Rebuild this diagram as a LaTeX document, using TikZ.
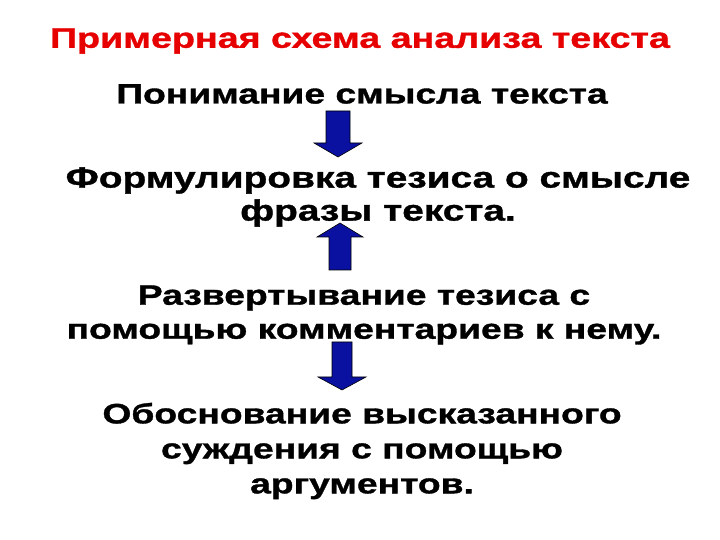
\documentclass[tikz,border=0pt]{standalone}
\usepackage{fontspec}
\setmainfont{Liberation Sans}[FakeStretch=1.33, BoldFeatures={FakeBold=1.2}]
\usetikzlibrary{calc}
\definecolor{arrblue}{RGB}{10,16,160}
\definecolor{titlered}{RGB}{230,0,0}
\begin{document}
\begin{tikzpicture}[x=1pt,y=1pt,
  txt/.style={font=\fontsize{28}{34}\selectfont\bfseries, align=center, inner sep=0pt, text=black},
  blockarrow/.style={fill=arrblue, draw=black, line width=0.6pt}]
\useasboundingbox (0,0) rectangle (720,540);
\node[txt, text=titlered, font=\fontsize{28.3}{34}\selectfont\bfseries] (title) at (360,499) {Примерная схема анализа текста};
\node[txt] (t1) at (362,446) {Понимание смысла текста};
\node[txt, font=\fontsize{29.2}{33}\selectfont\bfseries] (t2) at (378,343) {Формулировка тезиса о смысле\\фразы текста.};
\node[txt] (t3) at (364,225) {Развертывание тезиса с\\помощью комментариев к нему.};
\node[txt, font=\fontsize{28}{35}\selectfont\bfseries] (t4) at (362,89) {Обоснование высказанного\\суждения с помощью\\аргументов.};
% arrow 1 (down)
\coordinate (a1) at (338,429);
\draw[blockarrow] ($(a1)+(-12,0)$) -- ++(24,0) -- ++(0,-32) -- ++(12,0) -- ($(a1)+(0,-46)$) -- ($(a1)+(-24,-32)$) -- ++(12,0) -- cycle;
% arrow 2 (up)
\coordinate (a2) at (340,270);
\draw[blockarrow] ($(a2)+(-11,0)$) -- ++(22,0) -- ++(0,33) -- ++(12,0) -- ($(a2)+(0,47)$) -- ($(a2)+(-23,33)$) -- ++(12,0) -- cycle;
% arrow 3 (down)
\coordinate (a3) at (342,198);
\draw[blockarrow] ($(a3)+(-10,0)$) -- ++(20,0) -- ++(0,-35) -- ++(14,0) -- ($(a3)+(0,-48)$) -- ($(a3)+(-24,-35)$) -- ++(14,0) -- cycle;
\end{tikzpicture}
\end{document}
